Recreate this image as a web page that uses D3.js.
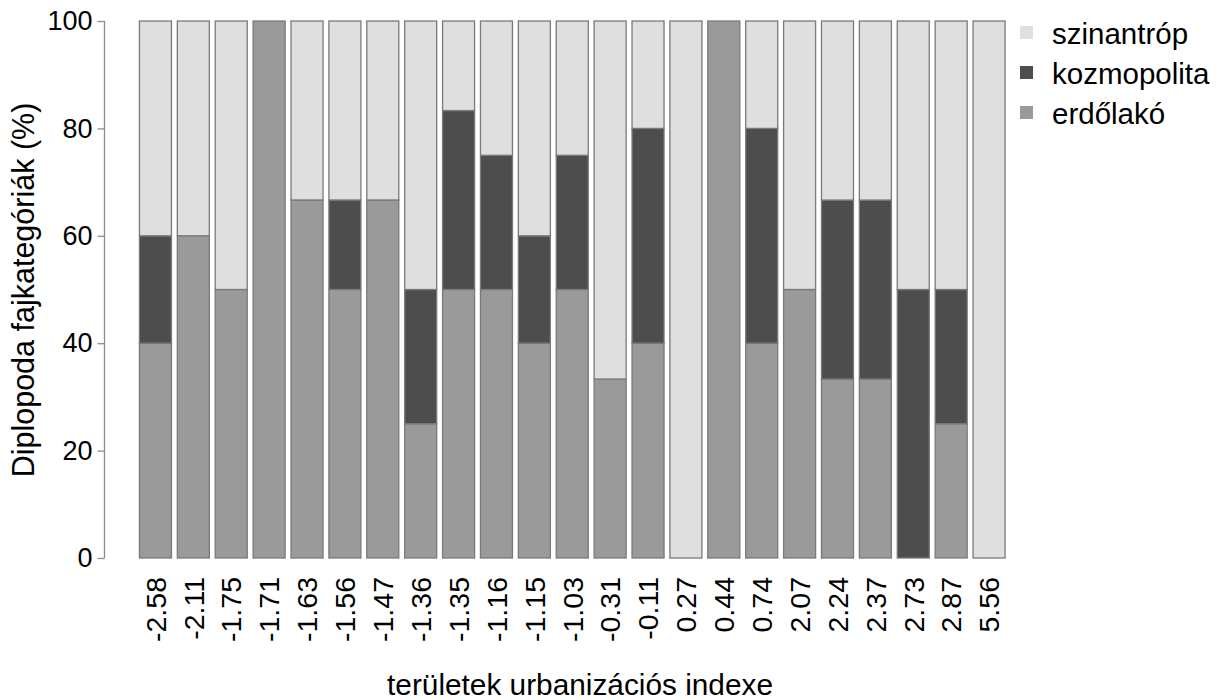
<!DOCTYPE html>
<html>
<head>
<meta charset="utf-8">
<script src="https://cdn.jsdelivr.net/npm/d3@7"></script>
<style>
  body { margin: 0; background: #fff; }
  text { font-family: "Liberation Sans", Arial, sans-serif; fill: #000; }
</style>
</head>
<body>
<div id="chart"></div>
<script>
// urbanizacios index (x categories)
let indexes = ["-2.58","-2.11","-1.75","-1.71","-1.63","-1.56","-1.47","-1.36","-1.35","-1.16","-1.15","-1.03",
               "-0.31","-0.11","0.27","0.44","0.74","2.07","2.24","2.37","2.73","2.87","5.56"]
// percentages per category, stacked bottom -> top
let erdolako    = [40, 60, 50, 100, 66.67, 50, 66.67, 25, 50, 50, 40, 50, 33.33, 40, 0, 100, 40, 50, 33.33, 33.33, 0, 25, 0]
let kozmopolita = [20, 0, 0, 0, 0, 16.67, 0, 25, 33.33, 25, 20, 25, 0, 40, 0, 0, 40, 0, 33.33, 33.33, 50, 25, 0]
let szinantrop  = [40, 40, 50, 0, 33.33, 33.33, 33.33, 50, 16.67, 25, 40, 25, 66.67, 20, 100, 0, 20, 50, 33.34, 33.34, 50, 50, 100]
let yTicks = [0, 20, 40, 60, 80, 100]

let keys = ["erdolako", "kozmopolita", "szinantrop"]
let labels = {erdolako: "erdőlakó", kozmopolita: "kozmopolita", szinantrop: "szinantróp"}
let colors = {erdolako: "#9a9a9a", kozmopolita: "#4d4d4d", szinantrop: "#dfdfdf"}

let rows = indexes.map(function(d, i){
    return {idx: d, erdolako: erdolako[i], kozmopolita: kozmopolita[i], szinantrop: szinantrop[i]}
})

let width = 1223, height = 700

let svg = d3.select('#chart')
        .append('svg')
        .attr('width', width)
        .attr('height', height)

let x = d3.scaleBand()
        .domain(indexes)
        .range([136.5, 1008])
        .paddingInner(0.155)
        .paddingOuter(0.0775)

let y = d3.scaleLinear()
        .domain([0, 100])
        .range([558, 21])

let stacked = d3.stack().keys(keys)(rows)

// bars
svg.append('g')
    .selectAll('g')
    .data(stacked)
    .enter()
    .append('g')
    .attr('fill', function(d){ return colors[d.key] })
    .selectAll('rect')
    .data(function(d){ return d })
    .enter()
    .append('rect')
    .attr('x', function(d){ return x(d.data.idx) })
    .attr('width', x.bandwidth())
    .attr('y', function(d){ return y(d[1]) })
    .attr('height', function(d){ return y(d[0]) - y(d[1]) })
    .attr('stroke', '#7a7a7a')
    .attr('stroke-width', 1.3)

// y axis
let yAxis = svg.append('g')
    .attr('transform', 'translate(104.5,0)')
    .call(d3.axisLeft(y).tickValues(yTicks).tickSize(7).tickPadding(5))
yAxis.selectAll('path, line').attr('stroke', '#8c8c8c').attr('stroke-width', 1.3)
yAxis.select('.domain').attr('d', 'M0,' + y(0) + 'V' + y(100))
yAxis.selectAll('text')
    .style('font-size', '27px')
    .style('font-family', '"Liberation Sans", Arial, sans-serif')
    .attr('fill', '#000')

// x labels (rotated)
svg.append('g')
    .selectAll('text')
    .data(indexes)
    .enter()
    .append('text')
    .attr('transform', function(d){ return 'translate(' + (x(d) + x.bandwidth()/2) + ',577) rotate(-90)' })
    .attr('text-anchor', 'end')
    .attr('dy', '0.36em')
    .style('font-size', '28.5px')
    .text(function(d){ return d })

// axis titles
svg.append('text')
    .attr('x', 580)
    .attr('y', 695)
    .attr('text-anchor', 'middle')
    .style('font-size', '29.8px')
    .text('területek urbanizációs indexe')

svg.append('text')
    .attr('transform', 'translate(34,290) rotate(-90)')
    .attr('text-anchor', 'middle')
    .style('font-size', '30.5px')
    .text('Diplopoda fajkategóriák (%)')

// legend
let legendKeys = ["szinantrop", "kozmopolita", "erdolako"]
let legend = svg.append('g')
    .selectAll('g')
    .data(legendKeys)
    .enter()
    .append('g')
    .attr('transform', function(d, i){ return 'translate(1020,' + (33 + i*40) + ')' })
legend.append('rect')
    .attr('x', 0)
    .attr('y', -7)
    .attr('width', 13)
    .attr('height', 13)
    .attr('fill', function(d){ return colors[d] })
legend.append('text')
    .attr('x', 32)
    .attr('dy', '0.36em')
    .style('font-size', '29.5px')
    .text(function(d){ return labels[d] })
</script>
</body>
</html>
